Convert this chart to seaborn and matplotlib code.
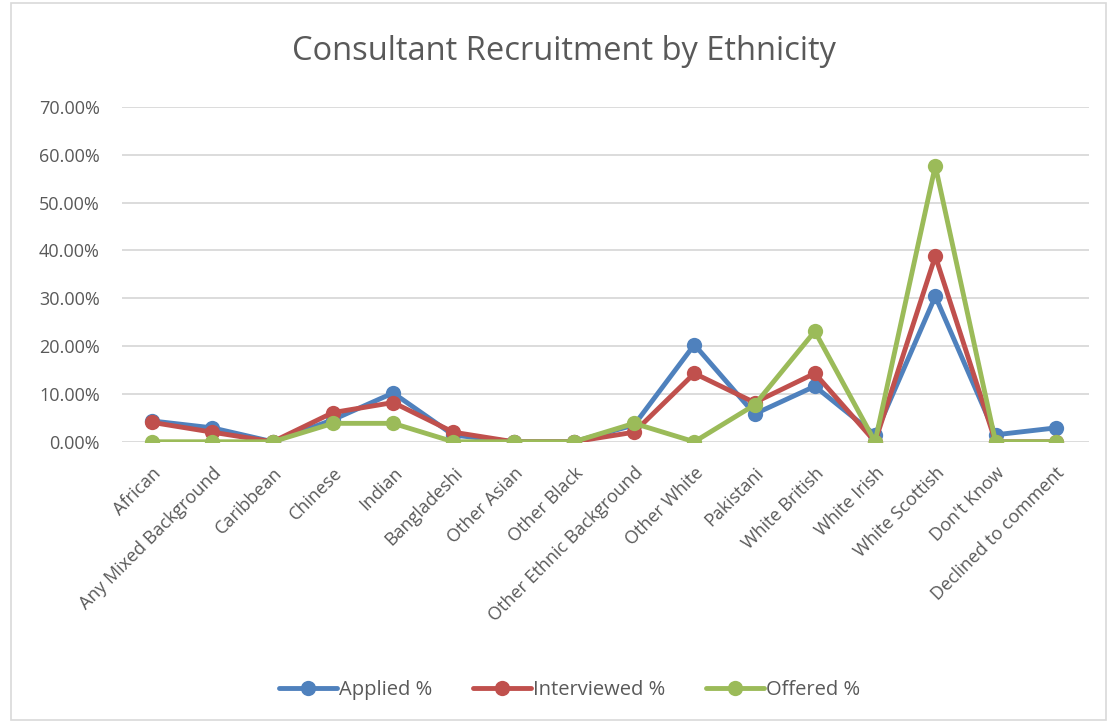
import pandas as pd
import numpy as np
import matplotlib
matplotlib.use('Agg')
import matplotlib.pyplot as plt
import seaborn as sns
from matplotlib.ticker import FuncFormatter

# Data
categories = ['African', 'Any Mixed Background', 'Caribbean', 'Chinese', 'Indian',
              'Bangladeshi', 'Other Asian', 'Other Black', 'Other Ethnic Background',
              'Other White', 'Pakistani', 'White British', 'White Irish',
              'White Scottish', "Don't Know", 'Declined to comment']
applied = [4.35, 2.9, 0.0, 4.6, 10.2, 1.4, 0.0, 0.0, 3.5, 20.3, 5.8, 11.6, 1.45, 30.4, 1.45, 2.9]
interviewed = [4.05, 2.0, 0.0, 6.1, 8.2, 2.0, 0.0, 0.0, 2.0, 14.3, 8.2, 14.3, 0.0, 38.8, 0.0, 0.0]
offered = [0.0, 0.0, 0.0, 3.85, 3.85, 0.0, 0.0, 0.0, 3.85, 0.0, 7.7, 23.1, 0.0, 57.7, 0.0, 0.0]
series_names = ['Applied %', 'Interviewed %', 'Offered %']
colors = ['#4F81BD', '#C0504D', '#9BBB59']

# long-form table for seaborn
df = pd.DataFrame({
    'pos': list(range(len(categories))) * 3,
    'value': applied + interviewed + offered,
    'series': np.repeat(series_names, len(categories)),
})

sns.set_theme(style='white')
plt.rcParams['font.family'] = ['Open Sans', 'DejaVu Sans']
text_col = '#595959'

fig = plt.figure(figsize=(11.1, 7.23), dpi=100)
ax = fig.add_axes([0.11, 0.389, 0.871, 0.463])

sns.lineplot(data=df, x='pos', y='value', hue='series', palette=colors,
             marker='o', markersize=11, markeredgewidth=0, linewidth=3.5,
             ax=ax, legend=False)

ax.set_xlim(-0.5, len(categories) - 0.45)
ax.set_ylim(0, 70)
ax.set_yticks(np.arange(0, 71, 10))
ax.yaxis.set_major_formatter(FuncFormatter(lambda v, _: f'{v:.2f}%'))
ax.set_xticks(range(len(categories)))
ax.set_xticklabels(categories, rotation=45, ha='right', rotation_mode='anchor')
ax.tick_params(axis='both', labelsize=13, colors=text_col, length=0)
ax.tick_params(axis='x', pad=16)
ax.tick_params(axis='y', pad=16)
ax.set_xlabel('')
ax.set_ylabel('')
ax.grid(axis='y', color='#D9D9D9', linewidth=1.3)
ax.set_axisbelow(True)
for s in ax.spines.values():
    s.set_visible(False)

fig.text(0.508, 0.929, 'Consultant Recruitment by Ethnicity', ha='center', va='center',
         fontsize=23.5, color=text_col)

# legend
handles = [plt.Line2D([0], [0], color=c, marker='o', markersize=11, linewidth=3.5,
                      markeredgewidth=0) for c in colors]
fig.legend(handles, series_names, loc='center', bbox_to_anchor=(0.513, 0.046), ncol=3,
           frameon=False, fontsize=14.5, labelcolor=text_col, handlelength=2.9,
           handletextpad=0.1, columnspacing=2.0)

# chart border
fig.patches.append(plt.Rectangle((0.01, 0.004), 0.986, 0.992, transform=fig.transFigure,
                                 fill=False, edgecolor='#D9D9D9', linewidth=1.2))

fig.savefig('out.png', dpi=100)
